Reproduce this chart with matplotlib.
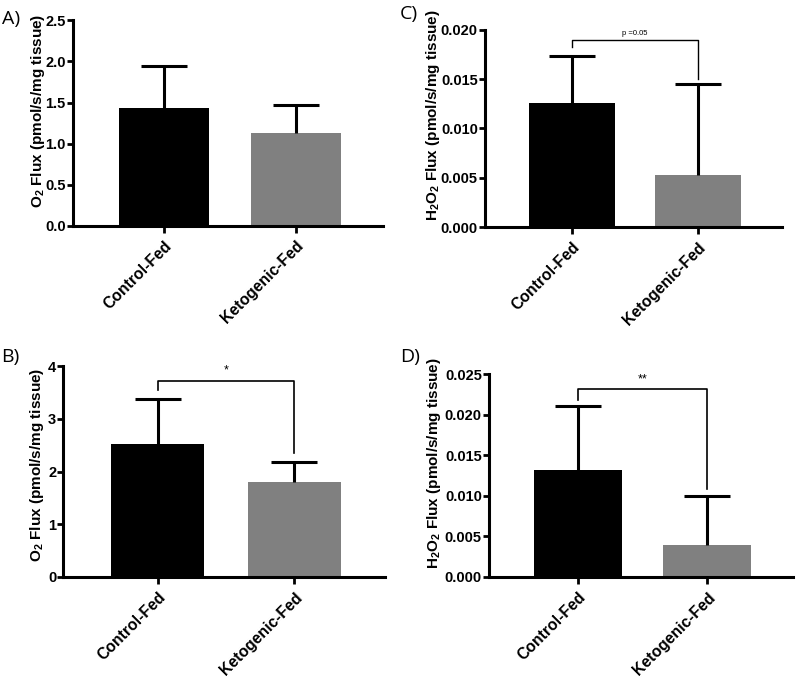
import matplotlib
matplotlib.use("Agg")
import matplotlib.pyplot as plt

plt.rcParams['font.family'] = ['Liberation Sans', 'DejaVu Sans']
plt.rcParams['mathtext.fontset'] = 'custom'
plt.rcParams['mathtext.rm'] = 'Liberation Sans:bold'
plt.rcParams['mathtext.it'] = 'Liberation Sans:bold'
plt.rcParams['mathtext.bf'] = 'Liberation Sans:bold'

categories = ['Control-Fed', 'Ketogenic-Fed']
colors = ['#000000', '#808080']

# Panel A
a_means = [1.43, 1.13]
a_err = [0.52, 0.34]
a_ticks = [0.0, 0.5, 1.0, 1.5, 2.0, 2.5]
a_ticklabels = ['0.0', '0.5', '1.0', '1.5', '2.0', '2.5']

# Panel B
b_means = [2.52, 1.81]
b_err = [0.86, 0.37]
b_ticks = [0, 1, 2, 3, 4]
b_ticklabels = ['0', '1', '2', '3', '4']

# Panel C
c_means = [0.0126, 0.0053]
c_err = [0.0047, 0.0092]
c_ticks = [0.0, 0.005, 0.010, 0.015, 0.020]
c_ticklabels = ['0.000', '0.005', '0.010', '0.015', '0.020']

# Panel D
d_means = [0.0132, 0.0039]
d_err = [0.0079, 0.0061]
d_ticks = [0.0, 0.005, 0.010, 0.015, 0.020, 0.025]
d_ticklabels = ['0.000', '0.005', '0.010', '0.015', '0.020', '0.025']

o2_label = r'O$_2$ Flux (pmol/s/mg tissue)'
h2o2_label = r'H$_2$O$_2$ Flux (pmol/s/mg tissue)'

fig = plt.figure(figsize=(8, 6.78), dpi=100)

panels = [
    # name, rect, means, err, ticks, labels, ylabel, label coords, sig
    ('A)', [0.091, 0.667, 0.388, 0.303], a_means, a_err, a_ticks, a_ticklabels, o2_label, (-0.084, 0.56), None),
    ('C)', [0.606, 0.665, 0.371, 0.291], c_means, c_err, c_ticks, c_ticklabels, h2o2_label, (-0.145, 0.57),
     dict(top=0.0190, left=0.0183, right=0.0150, text='p =0.05', ty=0.0193, fs=5.5, lw=1.0)),
    ('B)', [0.079, 0.149, 0.402, 0.311], b_means, b_err, b_ticks, b_ticklabels, o2_label, (-0.052, 0.53),
     dict(top=3.72, left=3.55, right=2.35, text='*', ty=3.80, fs=9, lw=1.2)),
    ('D)', [0.611, 0.149, 0.380, 0.299], d_means, d_err, d_ticks, d_ticklabels, h2o2_label, (-0.151, 0.56),
     dict(top=0.02315, left=0.0218, right=0.0108, text='**', ty=0.0236, fs=9, lw=1.2)),
]

label_pos = {'A)': (0.002, 0.985), 'C)': (0.500, 0.992), 'B)': (0.002, 0.487), 'D)': (0.500, 0.487)}

x = [0, 1]
for name, rect, means, err, ticks, tlabels, ylabel, lc, sig in panels:
    ax = fig.add_axes(rect)
    ax.bar(x, means, width=0.68, color=colors, edgecolor='none', zorder=2)
    tops = [m + e for m, e in zip(means, err)]
    ax.vlines(x, means, tops, colors='black', lw=2.2, zorder=3)
    ax.plot(x, tops, ls='none', marker='_', markersize=33, markeredgewidth=2.2,
            color='black', zorder=3)
    ax.set_xlim(-0.69, 1.66)
    ax.set_ylim(ticks[0], ticks[-1])
    ax.set_yticks(ticks)
    ax.set_yticklabels(tlabels, fontsize=10.5, fontweight='bold')
    ax.set_xticks(x)
    ax.set_xticklabels(categories, rotation=45, ha='right', rotation_mode='anchor',
                       fontsize=11.3, fontweight='bold')
    ax.spines['top'].set_visible(False)
    ax.spines['right'].set_visible(False)
    for s in ['left', 'bottom']:
        ax.spines[s].set_linewidth(2.2)
    ax.tick_params(axis='both', width=2.0, length=4, pad=1)
    ax.tick_params(axis='x', length=5, pad=4)
    ax.set_ylabel(ylabel, fontsize=11, fontweight='bold')
    ax.yaxis.set_label_coords(lc[0], lc[1])
    if sig is not None:
        ax.plot([0, 0, 1, 1], [sig['left'], sig['top'], sig['top'], sig['right']],
                color='black', lw=sig['lw'], clip_on=False, zorder=4)
        ax.text(0.5, sig['ty'], sig['text'], ha='center', va='bottom',
                fontsize=sig['fs'], fontweight='normal')
    lx, lyy = label_pos[name]
    fig.text(lx, lyy, name, fontsize=14, ha='left', va='top', family=['Open Sans', 'DejaVu Sans'])

fig.savefig('out.png', dpi=100)
